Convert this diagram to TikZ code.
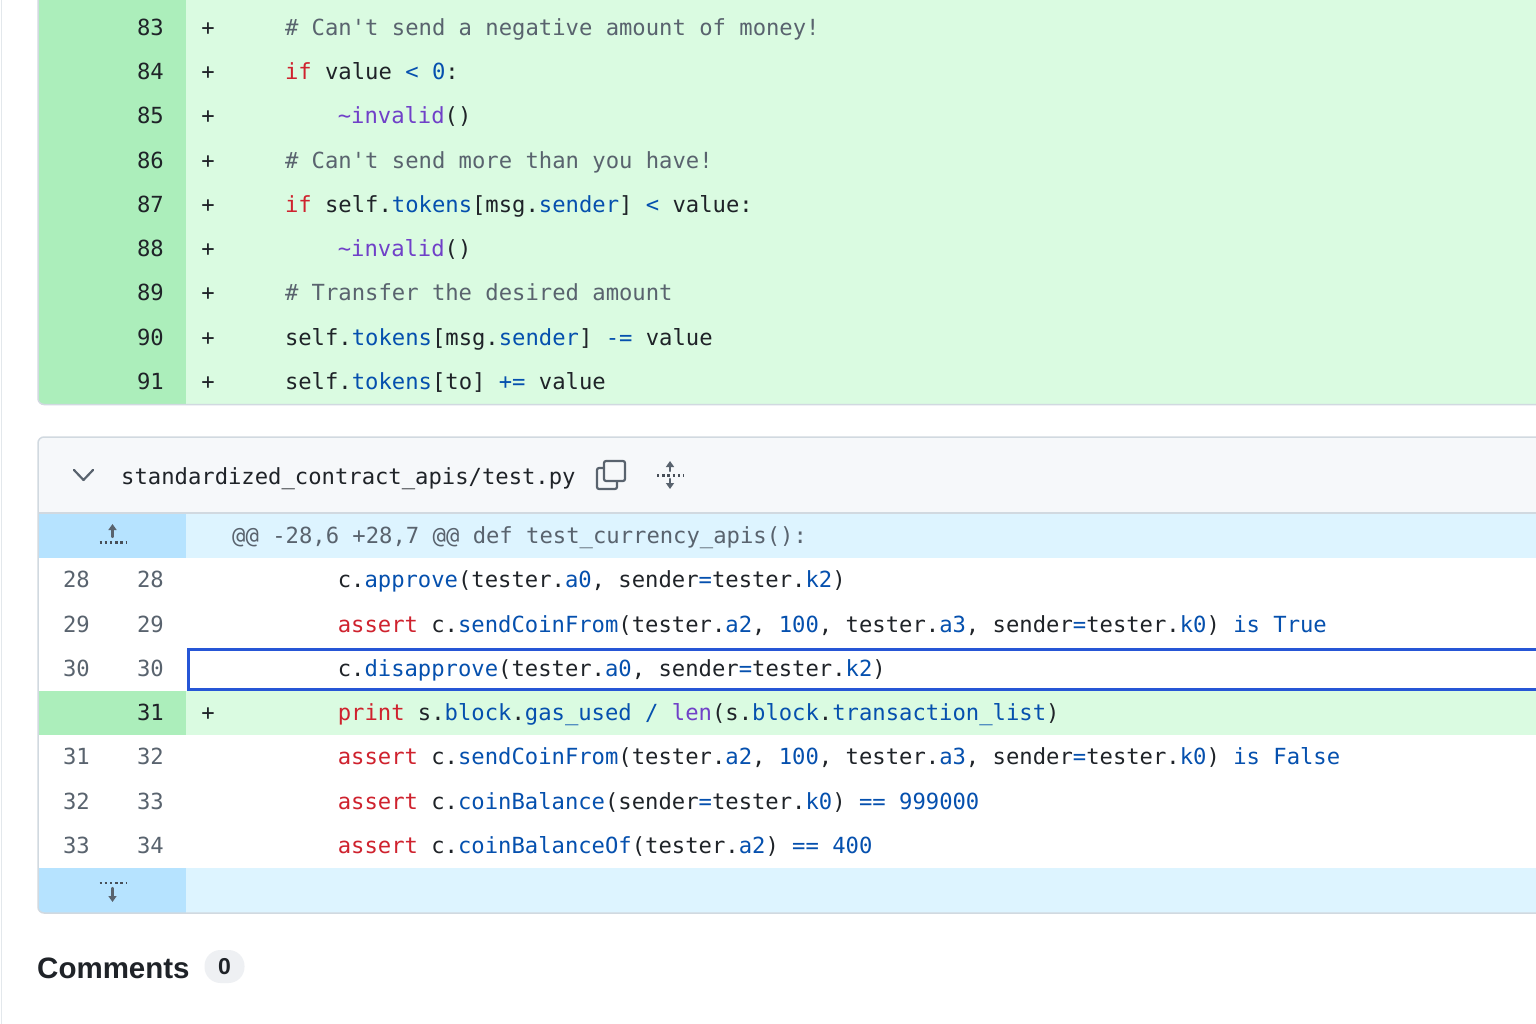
\documentclass[tikz,border=0pt]{standalone}
\usepackage{fontspec}
\setmainfont{Liberation Sans}
\setmonofont{DejaVu Sans Mono}
\usetikzlibrary{arrows.meta}
\frenchspacing
\definecolor{fg}{HTML}{1F2328}
\definecolor{muted}{HTML}{59636E}
\definecolor{kwred}{HTML}{CF222E}
\definecolor{cblue}{HTML}{0550AE}
\definecolor{cpurple}{RGB}{112,64,200}
\definecolor{addline}{HTML}{DAFBE1}
\definecolor{addnum}{HTML}{ACEEBB}
\definecolor{hunkline}{HTML}{DDF4FF}
\definecolor{hunknum}{HTML}{B6E3FF}
\definecolor{hdrbg}{HTML}{F6F8FA}
\definecolor{panelline}{HTML}{D1D9E0}
\definecolor{hilite}{RGB}{38,86,214}
\definecolor{badgebg}{HTML}{EEF0F3}
\newcommand{\ckw}[1]{\textcolor{kwred}{#1}}
\newcommand{\cpr}[1]{\textcolor{cblue}{#1}}
\newcommand{\cfn}[1]{\textcolor{cpurple}{#1}}
\newcommand{\ccm}[1]{\textcolor{muted}{#1}}

\begin{document}
\begin{tikzpicture}[x=1pt, y=-1pt,
    code/.style={anchor=base west, inner sep=0pt, text=fg,
        font=\ttfamily\fontsize{22.2}{22}\selectfont},
    lnum/.style={code, anchor=base east, text=muted},
    addnumtext/.style={lnum, text=fg},
    plus/.style={code, anchor=base},
    icon/.style={draw=muted, line width=2.2pt, line cap=round, line join=round},
    dots/.style={draw=muted!80!black, line width=2.6pt, dash pattern=on 2.4pt off 2.8pt}]
\useasboundingbox (0,0) rectangle (1536,1024);
\fill[white] (0,0) rectangle (1536,1024);
\draw[panelline!60, line width=1pt] (1,0) -- (1,1024);

% first panel: added lines
\begin{scope}
\clip[rounded corners=6pt] (38,-20) rectangle (1580,404.5);
\fill[addline] (38,-20) rectangle (1580,404.5);
\fill[addnum] (38,-20) rectangle (186,404.5);
\end{scope}
\draw[panelline, line width=1.5pt, rounded corners=6pt] (38,-20) rectangle (1580,404.5);

\foreach \n [count=\i from 0] in {83,...,91}
{
    \node[addnumtext] (n\n) at (164,35.2+44.3*\i) {\n};
    \node[plus] (p\n) at (208,35.2+44.3*\i) {+};
}
\node[code] (c83) at (284.8,35.2) {\ccm{\# Can't send a negative amount of money!}};
\node[code] (c84) at (284.8,79.5) {\ckw{if} value \cpr{<} \cpr{0}:};
\node[code] (c85) at (337.6,123.8) {\cfn{\textasciitilde invalid}()};
\node[code] (c86) at (284.8,168.1) {\ccm{\# Can't send more than you have!}};
\node[code] (c87) at (284.8,212.4) {\ckw{if} self.\cpr{tokens}[msg.\cpr{sender}] \cpr{<} value:};
\node[code] (c88) at (337.6,256.7) {\cfn{\textasciitilde invalid}()};
\node[code] (c89) at (284.8,301) {\ccm{\# Transfer the desired amount}};
\node[code] (c90) at (284.8,345.3) {self.\cpr{tokens}[msg.\cpr{sender}] \cpr{-=} value};
\node[code] (c91) at (284.8,389.6) {self.\cpr{tokens}[to] \cpr{+=} value};

% second panel: test.py
\begin{scope}
\clip[rounded corners=6pt] (38,437) rectangle (1580,913);
\fill[hdrbg] (38,437) rectangle (1580,513);
\fill[hunkline] (38,513) rectangle (1580,558);
\fill[hunknum] (38,513) rectangle (186,558);
\fill[addline] (38,690.9) rectangle (1580,735.2);
\fill[addnum] (38,690.9) rectangle (186,735.2);
\fill[hunkline] (38,868.1) rectangle (1580,913);
\fill[hunknum] (38,868.1) rectangle (186,913);
\end{scope}
\draw[panelline, line width=1.5pt] (38,513) -- (1580,513);
\draw[panelline, line width=1.5pt, rounded corners=6pt] (38,437) rectangle (1580,913);

% header
\draw[icon] (74,470) -- (83.5,480) -- (93,470);
\node[code] (fname) at (121,484) {standardized\_contract\_apis/test.py};
\draw[icon, rounded corners=2pt] (604,461) rectangle (625,481);
\draw[icon, rounded corners=2pt] (604,468) -- (597,468) -- (597,489) -- (617,489) -- (617,482);
\draw[icon, -{Triangle[width=8pt,length=6pt]}] (670,471) -- (670,461);
\draw[dots] (657,475.5) -- (684,475.5);
\draw[icon, -{Triangle[width=8pt,length=6pt]}] (670,479) -- (670,489);

% hunk
\draw[icon, -{Triangle[width=8pt,length=6pt]}] (112.5,537) -- (112.5,524);
\draw[dots] (99.5,542.5) -- (127,542.5);
\node[code, text=muted] (hunk) at (232,543.1) {@@ -28,6 +28,7 @@ def test\_currency\_apis():};

\foreach \o/\n/\y in {28/28/587.7,29/29/632,30/30/676.3,31/32/764.9,32/33/809.2,33/34/853.5}
{
    \node[lnum] (o\n) at (90,\y) {\o};
    \node[lnum] (m\n) at (164,\y) {\n};
}
\node[addnumtext] (m31) at (164,720.6) {31};
\node[plus] (p31) at (208,720.6) {+};

\node[code] (d28) at (337.6,587.7) {c.\cpr{approve}(tester.\cpr{a0}, sender\cpr{=}tester.\cpr{k2})};
\node[code] (d29) at (337.6,632) {\ckw{assert} c.\cpr{sendCoinFrom}(tester.\cpr{a2}, \cpr{100}, tester.\cpr{a3}, sender\cpr{=}tester.\cpr{k0}) \cpr{is True}};
\node[code] (d30) at (337.6,676.3) {c.\cpr{disapprove}(tester.\cpr{a0}, sender\cpr{=}tester.\cpr{k2})};
\node[code] (d31) at (337.6,720.6) {\ckw{print} s.\cpr{block}.\cpr{gas\_used} \cpr{/} \cfn{len}(s.\cpr{block}.\cpr{transaction\_list})};
\node[code] (d32) at (337.6,764.9) {\ckw{assert} c.\cpr{sendCoinFrom}(tester.\cpr{a2}, \cpr{100}, tester.\cpr{a3}, sender\cpr{=}tester.\cpr{k0}) \cpr{is False}};
\node[code] (d33) at (337.6,809.2) {\ckw{assert} c.\cpr{coinBalance}(sender\cpr{=}tester.\cpr{k0}) \cpr{==} \cpr{999000}};
\node[code] (d34) at (337.6,853.5) {\ckw{assert} c.\cpr{coinBalanceOf}(tester.\cpr{a2}) \cpr{==} \cpr{400}};

% selected line
\draw[hilite, line width=3pt] (188.7,649) rectangle (1545,689);

% expand down
\draw[dots] (99.5,883) -- (127,883);
\draw[icon, -{Triangle[width=8pt,length=6pt]}] (112.5,888) -- (112.5,902);

% comments
\node[anchor=base west, inner sep=0pt, text=fg, font=\bfseries\fontsize{29.5}{30}\selectfont] (comments) at (37,978) {Comments};
\node[fill=badgebg, rounded corners=16pt, minimum width=40pt, minimum height=33pt, inner sep=0pt,
    text=fg, font=\bfseries\fontsize{23}{24}\selectfont] (count) at (224.5,966.5) {0};
\end{tikzpicture}
\end{document}
